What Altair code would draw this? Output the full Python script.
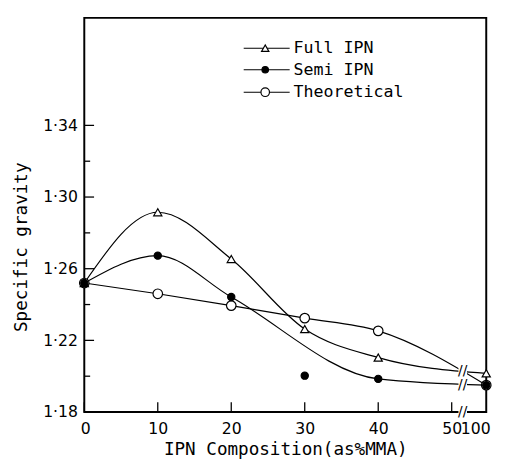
import altair as alt
import pandas as pd

# ---------------- data ----------------
composition = [0, 10, 20, 30, 40, 100]
full_ipn = [1.252, 1.2915, 1.2654, 1.2263, 1.2104, 1.2016]
semi_ipn = [1.252, 1.2673, 1.2442, 1.2003, 1.1985, 1.1950]
theoretical = [1.252, 1.2460, 1.2394, 1.2324, 1.2253, 1.1950]
series_names = ["Full IPN", "Semi IPN", "Theoretical"]
semi_points_off_curve = [30]          # plotted point not on the drawn curve

y_major_ticks = [1.18, 1.22, 1.26, 1.30, 1.34]
y_minor_ticks = [1.20, 1.24, 1.28, 1.32]
x_ticks = [0, 10, 20, 30, 40, 50]
x_tick_labels = ["0", "10", "20", "30", "40", "50", "100"]
break_levels = [1.2029, 1.1948]      # curve levels where the axis break is marked

# ---------------- layout / style ----------------
W, H = 411, 403
X_END = 54.7        # axis position used for the "100" column (after the break)
X_BREAK = 51.5
Y_MIN, Y_MAX = 1.18, 1.40
MONO = "DejaVu Sans Mono"
SANS = "DejaVu Sans"
LW = 1.2

rows = []
for name, vals in zip(series_names, [full_ipn, semi_ipn, theoretical]):
    for c, v in zip(composition, vals):
        rows.append({"series": name, "comp": c, "sg": v,
                     "on_curve": not (name == "Semi IPN" and c in semi_points_off_curve)})
df = pd.DataFrame(rows)

pos_expr = f"datum.comp <= 50 ? datum.comp : {X_END}"

xscale = alt.Scale(domain=[0, X_END], nice=False, zero=False)
yscale = alt.Scale(domain=[Y_MIN, Y_MAX], nice=False, zero=False)

x_axis = alt.Axis(
    values=x_ticks + [X_END],
    labelExpr=f"datum.value > 50 ? '{x_tick_labels[-1]}' : datum.label",
    ticks=False, tickSize=0, domain=False, grid=False,
    labelFlush=True, labelFlushOffset=4, labelOverlap=False,
    labelPadding=9, labelFont=SANS, labelFontSize=16, labelColor="black",
    titleFont=MONO, titleFontSize=18, titleFontWeight="normal",
    titleColor="black", titlePadding=4,
)
y_axis = alt.Axis(
    values=y_major_ticks,
    labelExpr="replace(format(datum.value, '.2f'), '.', '·')",
    ticks=False, tickSize=0, domain=False, grid=False,
    labelPadding=7, labelFont=SANS, labelFontSize=16, labelColor="black",
    titleFont=MONO, titleFontSize=18, titleFontWeight="normal",
    titleColor="black", titlePadding=12, titleY=234,
)


def X(field):
    return alt.X(field, type="quantitative", scale=xscale, axis=x_axis,
                 title="IPN Composition(as%MMA)")


def Y(field):
    return alt.Y(field, type="quantitative", scale=yscale, axis=y_axis,
                 title="Specific gravity")


base = alt.Chart(df).transform_calculate(pos=pos_expr)

lines = base.transform_filter("datum.on_curve").mark_line(
    interpolate="monotone", color="black", strokeWidth=LW
).encode(x=X("pos"), y=Y("sg"), detail="series:N")

styles = {
    "Full IPN": dict(shape="triangle-up", fill="white", size=70),
    "Semi IPN": dict(shape="circle", fill="black", size=55),
    "Theoretical": dict(shape="circle", fill="white", size=95),
}

point_layers = []
for name in ["Theoretical", "Full IPN", "Semi IPN"]:
    st = styles[name]
    point_layers.append(
        base.transform_filter(alt.datum.series == name).mark_point(
            shape=st["shape"], filled=True, fill=st["fill"], stroke="black",
            strokeWidth=LW, size=st["size"], opacity=1
        ).encode(x=X("pos"), y=Y("sg"))
    )

# inward ticks
ytick_major = alt.Chart(pd.DataFrame({"v": y_major_ticks})).mark_rule(
    color="black", strokeWidth=1.3).encode(y=Y("v"), x=alt.value(0), x2=alt.value(10))
ytick_minor = alt.Chart(pd.DataFrame({"v": y_minor_ticks})).mark_rule(
    color="black", strokeWidth=1.3).encode(y=Y("v"), x=alt.value(0), x2=alt.value(6))
xtick = alt.Chart(pd.DataFrame({"v": x_ticks})).mark_rule(
    color="black", strokeWidth=1.3).encode(x=X("v"), y=alt.value(H), y2=alt.value(H - 10))

# axis-break marks
brk = pd.DataFrame({"b": [X_BREAK] * (len(break_levels) + 1), "v": [Y_MIN] + break_levels})
brk_gap = alt.Chart(brk).mark_point(
    shape="square", filled=True, fill="white", stroke="white", size=45, opacity=1
).encode(x=X("b"), y=Y("v"))
brk_txt = alt.Chart(brk).mark_text(
    text="//", font=SANS, fontSize=14, color="black", baseline="middle", align="center"
).encode(x=X("b"), y=Y("v"))

# legend (drawn inside the plot)
row_y = [31, 53, 76]
legend_layers = []
for name, ry in zip(series_names, row_y):
    st = styles[name]
    ld = pd.DataFrame({"name": [name]})
    legend_layers.append(alt.Chart(ld).mark_rule(color="black", strokeWidth=LW).encode(
        x=alt.value(163), x2=alt.value(210), y=alt.value(ry)))
    legend_layers.append(alt.Chart(ld).mark_point(
        shape=st["shape"], filled=True, fill=st["fill"], stroke="black",
        strokeWidth=LW, size=st["size"] * 0.8, opacity=1).encode(
        x=alt.value(185), y=alt.value(ry)))
    legend_layers.append(alt.Chart(ld).mark_text(
        align="left", baseline="middle", font=MONO, fontSize=17, color="black").encode(
        x=alt.value(214), y=alt.value(ry), text="name:N"))

chart = alt.layer(
    lines, *point_layers, ytick_major, ytick_minor, xtick, brk_gap, brk_txt, *legend_layers
).properties(
    width=W, height=H,
    padding={"left": 5, "top": 5, "right": 3, "bottom": 0},
    background="white",
).configure_view(stroke="black", strokeWidth=2)

chart.save("out.html", embed_options={"renderer": "svg", "actions": False})
